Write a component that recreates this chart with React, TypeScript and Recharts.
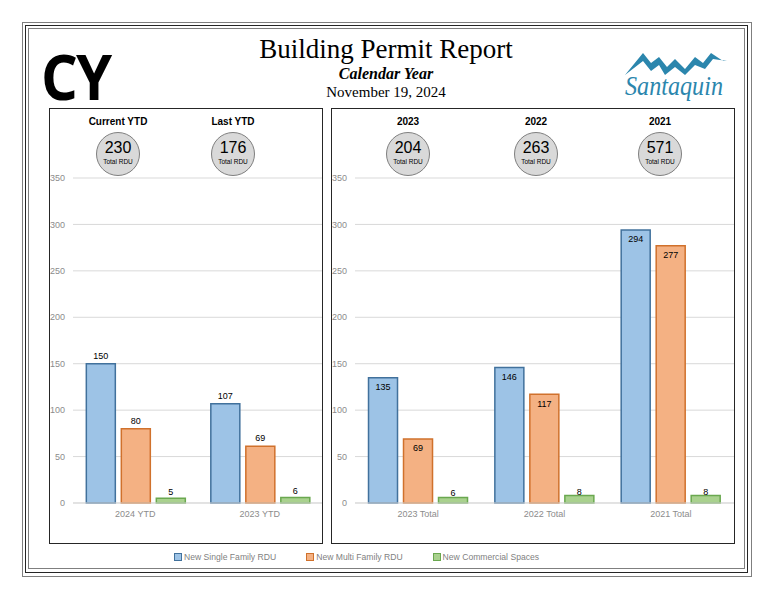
import React from 'react'
import { BarChart, Bar, XAxis, YAxis, CartesianGrid, LabelList } from 'recharts'

const leftCategories = ['2024 YTD', '2023 YTD']
const leftSingle = [150, 107]
const leftMulti = [80, 61]
const leftMultiLabels = ['80', '69']
const leftCommercial = [5, 6]

const rightCategories = ['2023 Total', '2022 Total', '2021 Total']
const rightSingle = [135, 146, 294]
const rightMulti = [69, 117, 277]
const rightCommercial = [6, 8, 8]

const leftBadgeTitles = ['Current YTD', 'Last YTD']
const leftBadgeTotals = [230, 176]
const rightBadgeTitles = ['2023', '2022', '2021']
const rightBadgeTotals = [204, 263, 571]

const seriesNames = ['New Single Family RDU', 'New Multi Family RDU', 'New Commercial Spaces']
const yTicks = [0, 50, 100, 150, 200, 250, 300, 350]

const FILL = ['#9dc3e6', '#f4b183', '#a9d18e']
const EDGE = ['#41719c', '#d0712c', '#6aa84f']
const FONT = "'Liberation Sans', Arial, sans-serif"

const leftData = leftCategories.map((name, i) => ({
  name,
  single: leftSingle[i],
  multi: leftMulti[i],
  multiLabel: leftMultiLabels[i],
  commercial: leftCommercial[i],
}))

const rightData = rightCategories.map((name, i) => ({
  name,
  single: rightSingle[i],
  multi: rightMulti[i],
  commercial: rightCommercial[i],
}))

function Badge({ x, title, total }: { x: number; title: string; total: number }) {
  return (
    <>
      <div style={{ position: 'absolute', left: x - 50, top: 116, width: 100, textAlign: 'center', fontFamily: FONT, fontWeight: 'bold', fontSize: 10, color: '#000' }}>
        {title}
      </div>
      <div style={{
        position: 'absolute', left: x - 22, top: 132, width: 42, height: 42, borderRadius: '50%',
        background: '#d9d9d9', border: '1px solid #7f7f7f', fontFamily: FONT, textAlign: 'center',
      }}>
        <div style={{ fontSize: 16, lineHeight: '16px', marginTop: 7, color: '#000' }}>{total}</div>
        <div style={{ fontSize: 6.5, lineHeight: '8px', marginTop: 2, color: '#000' }}>Total RDU</div>
      </div>
    </>
  )
}

const tickStyle = { fontSize: 9, fill: '#8c8c8c', fontFamily: FONT }
const labelStyle = { fontSize: 9, fill: '#000', fontFamily: FONT }

function Logo() {
  return (
    <svg width={120} height={60} style={{ position: 'absolute', left: 615, top: 45 }}>
      <polygon
        points="10,30 28,8 36,18 44,12 52,22 60,14 70,24 80,12 88,18 96,8 108,16 112,16 98,14 90,24 80,20 70,30 60,22 50,30 44,20 36,26 28,16"
        fill="#2b86ad"
      />
      <text x={10} y={50} fontFamily="'Liberation Serif', serif" fontStyle="italic" fontSize={27} fill="#2b86ad" textLength={98} lengthAdjust="spacingAndGlyphs">
        Santaquin
      </text>
    </svg>
  )
}

export default function App() {
  return (
    <div style={{ position: 'absolute', left: 0, top: 0, width: 776, height: 600, background: '#fff' }}>
      {/* triple frame */}
      <div style={{ position: 'absolute', left: 22, top: 22, width: 728, height: 553, border: '1px solid #7f7f7f' }} />
      <div style={{ position: 'absolute', left: 25, top: 25, width: 721, height: 546, border: '1.5px solid #262626' }} />
      <div style={{ position: 'absolute', left: 28, top: 28, width: 715, height: 539, border: '1px solid #7f7f7f' }} />

      <div style={{ position: 'absolute', left: 41, top: 44, fontFamily: "'Open Sans', sans-serif", fontWeight: 'bold', fontSize: 63, lineHeight: '63px', letterSpacing: -2, transform: 'scaleX(0.92)', transformOrigin: 'left top', color: '#000' }}>
        CY
      </div>
      <div style={{ position: 'absolute', left: 186, top: 34, width: 400, textAlign: 'center', fontFamily: "'Liberation Serif', serif", color: '#000' }}>
        <div style={{ fontSize: 27, lineHeight: '30px' }}>Building Permit Report</div>
        <div style={{ fontSize: 16, lineHeight: '19px', fontWeight: 'bold', fontStyle: 'italic' }}>Calendar Year</div>
        <div style={{ fontSize: 15, lineHeight: '19px' }}>November 19, 2024</div>
      </div>
      <Logo />

      {/* left panel */}
      <div style={{ position: 'absolute', left: 49, top: 108, width: 272, height: 434, border: '1px solid #262626' }} />
      <div style={{ position: 'absolute', left: 49, top: 108 }}>
        <BarChart width={273} height={435} data={leftData} barCategoryGap="10.7%" barGap={6} margin={{ top: 70, right: 0, bottom: 20, left: 0 }}>
          <CartesianGrid vertical={false} stroke="#d9d9d9" />
          <XAxis dataKey="name" tickLine={false} axisLine={{ stroke: '#d9d9d9' }} tick={tickStyle} height={20} />
          <YAxis domain={[0, 350]} ticks={yTicks} width={24} tickLine={false} axisLine={false} tick={tickStyle} />
          <Bar dataKey="single" fill={FILL[0]} stroke={EDGE[0]} strokeWidth={1.5} isAnimationActive={false}>
            <LabelList dataKey="single" position="top" style={labelStyle} />
          </Bar>
          <Bar dataKey="multi" fill={FILL[1]} stroke={EDGE[1]} strokeWidth={1.5} isAnimationActive={false}>
            <LabelList dataKey="multiLabel" position="top" style={labelStyle} />
          </Bar>
          <Bar dataKey="commercial" fill={FILL[2]} stroke={EDGE[2]} strokeWidth={1.5} isAnimationActive={false}>
            <LabelList dataKey="commercial" position="top" offset={3} style={labelStyle} />
          </Bar>
        </BarChart>
      </div>
      {leftBadgeTitles.map((t, i) => (
        <Badge key={t} x={[118, 233][i]} title={t} total={leftBadgeTotals[i]} />
      ))}

      {/* right panel */}
      <div style={{ position: 'absolute', left: 331, top: 108, width: 402, height: 434, border: '1px solid #262626' }} />
      <div style={{ position: 'absolute', left: 331, top: 108 }}>
        <BarChart width={403} height={435} data={rightData} barCategoryGap="10.7%" barGap={6} margin={{ top: 70, right: 0, bottom: 20, left: 0 }}>
          <CartesianGrid vertical={false} stroke="#d9d9d9" />
          <XAxis dataKey="name" tickLine={false} axisLine={{ stroke: '#d9d9d9' }} tick={tickStyle} height={20} />
          <YAxis domain={[0, 350]} ticks={yTicks} width={24} tickLine={false} axisLine={false} tick={tickStyle} />
          <Bar dataKey="single" fill={FILL[0]} stroke={EDGE[0]} strokeWidth={1.5} isAnimationActive={false}>
            <LabelList dataKey="single" position="insideTop" offset={6} style={labelStyle} />
          </Bar>
          <Bar dataKey="multi" fill={FILL[1]} stroke={EDGE[1]} strokeWidth={1.5} isAnimationActive={false}>
            <LabelList dataKey="multi" position="insideTop" offset={6} style={labelStyle} />
          </Bar>
          <Bar dataKey="commercial" fill={FILL[2]} stroke={EDGE[2]} strokeWidth={1.5} isAnimationActive={false}>
            <LabelList dataKey="commercial" position="top" offset={1} style={labelStyle} />
          </Bar>
        </BarChart>
      </div>
      {rightBadgeTitles.map((t, i) => (
        <Badge key={t} x={[408, 536, 660][i]} title={t} total={rightBadgeTotals[i]} />
      ))}

      {/* legend */}
      <div style={{ position: 'absolute', left: 174, top: 552, display: 'flex', gap: 30, fontFamily: FONT, fontSize: 8.6, color: '#7f7f7f' }}>
        {seriesNames.map((n, i) => (
          <div key={n} style={{ display: 'flex', alignItems: 'center' }}>
            <span style={{ display: 'inline-block', width: 6, height: 6, background: FILL[i], border: `1px solid ${EDGE[i]}`, marginRight: 2 }} />
            {n}
          </div>
        ))}
      </div>
    </div>
  )
}
